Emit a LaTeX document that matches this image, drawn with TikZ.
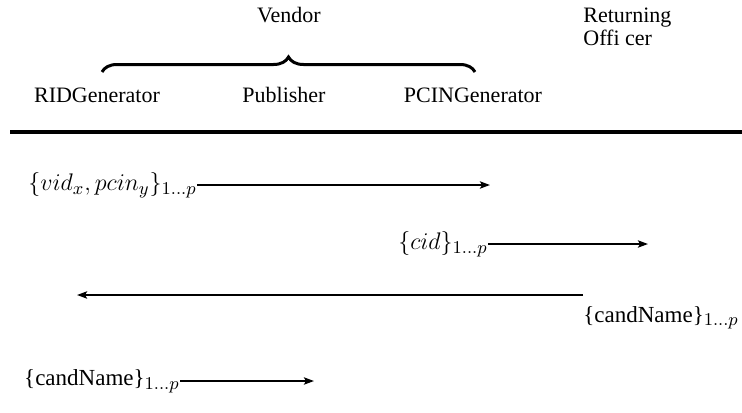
\documentclass[tikz,border=0pt]{standalone}
\usepackage[no-math]{fontspec}
\setmainfont{Liberation Serif}
\usetikzlibrary{arrows.meta,decorations.pathreplacing}

\newcommand{\candset}{{\fontsize{11.5}{14}\selectfont\textbraceleft candName\textbraceright}}

\tikzset{
  role/.style={font=\fontsize{11}{11.5}\selectfont, inner sep=0pt},
  msgtext/.style={font=\fontsize{12.6}{14}\selectfont, inner sep=0pt},
  msg/.style={line width=1pt, -{Stealth[length=5pt,width=3.6pt,inset=1pt]}},
  separator/.style={line width=1.8pt},
  groupbrace/.style={line width=1.5pt, decorate,
    decoration={brace, amplitude=7.5pt, aspect=0.5}}
}

\begin{document}
\begin{tikzpicture}[x=0.5pt, y=-0.5pt]
  \useasboundingbox (0,0) rectangle (742,412);

  % participants
  \node[role, anchor=base] (vendor) at (289,22) {Vendor};
  \node[role, anchor=north west, align=left] (officer) at (583,7.5) {Returning\\Offi cer};
  \node[role, anchor=base] (rid) at (97,102) {RIDGenerator};
  \node[role, anchor=base] (pub) at (284,102) {Publisher};
  \node[role, anchor=base] (pcin) at (473,102) {PCINGenerator};

  % the vendor groups its three components
  \coordinate (braceL) at (102,72);
  \coordinate (braceR) at (475,72);
  \draw[groupbrace] (braceL) -- (braceR);

  % separator between participants and messages
  \coordinate (ruleL) at (10,132);
  \coordinate (ruleR) at (742,132);
  \draw[separator] (ruleL) -- (ruleR);

  % message 1
  \node[msgtext, anchor=east] (m1) at (197,185) {$\{vid_x, pcin_y\}_{1\ldots p}$};
  \coordinate (m1end) at (490,185);
  \draw[msg] (m1.east) -- (m1end);

  % message 2
  \node[msgtext, anchor=east] (m2) at (488,244) {$\{cid\}_{1\ldots p}$};
  \coordinate (m2end) at (648,244);
  \draw[msg] (m2.east) -- (m2end);

  % message 3
  \coordinate (m3start) at (583,295);
  \coordinate (m3end) at (77,295);
  \draw[msg] (m3start) -- (m3end);
  \node[msgtext, anchor=north west] (m3) at (583,306) {\candset$_{1\ldots p}$};

  % message 4
  \node[msgtext, anchor=east] (m4) at (180,381) {\candset$_{1\ldots p}$};
  \coordinate (m4end) at (314,381);
  \draw[msg] (m4.east) -- (m4end);
\end{tikzpicture}
\end{document}
